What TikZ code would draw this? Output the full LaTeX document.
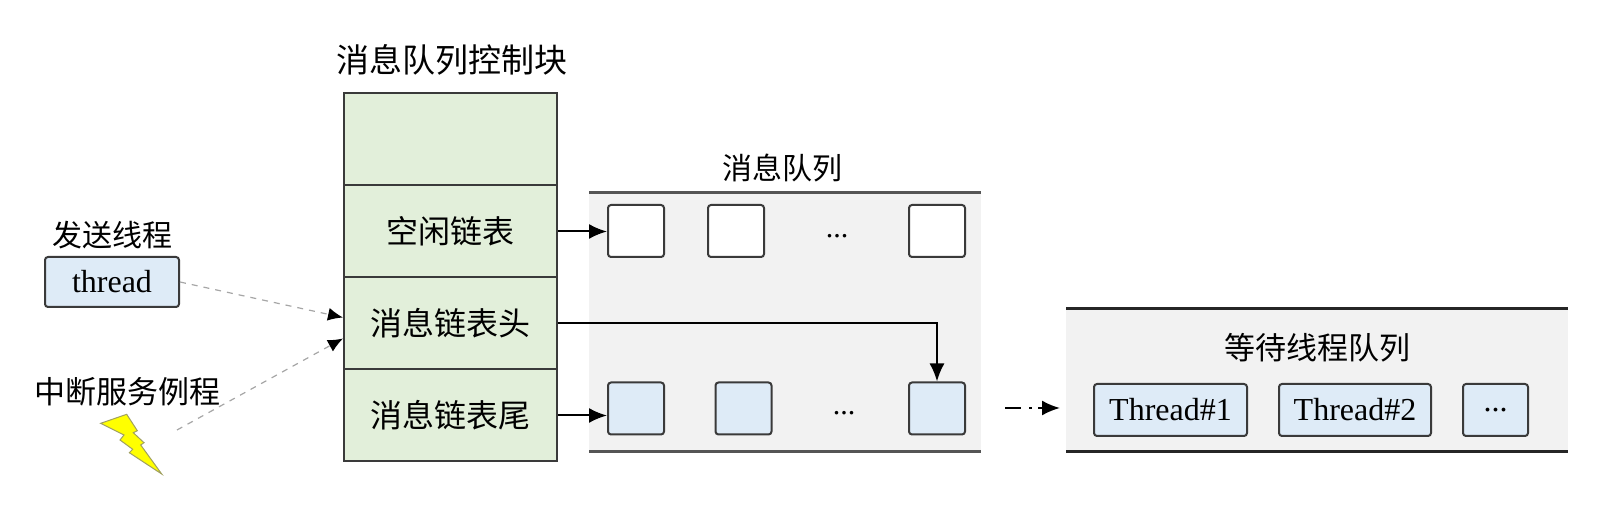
\documentclass[tikz,border=0pt]{standalone}
\usepackage{fontspec}
\setmainfont{Liberation Serif}
\newfontfamily\cjk{Noto Sans CJK SC}
\usetikzlibrary{arrows.meta}
\definecolor{cbgreen}{HTML}{E2EFDA}
\definecolor{qblue}{HTML}{DEEBF7}
\definecolor{qgray}{HTML}{F2F2F2}
\definecolor{qline}{HTML}{555555}
\definecolor{boxline}{HTML}{3A3A3A}
\definecolor{boltfill}{HTML}{FFFF00}
\definecolor{boltline}{HTML}{A0A060}

\begin{document}
\begin{tikzpicture}[x=0.5pt,y=-0.5pt,
  cbrow/.style={draw=boxline,line width=1pt,fill=cbgreen,minimum width=106.5pt,
    minimum height=46pt,inner sep=0pt,font=\cjk\fontsize{16}{16}\selectfont},
  msgbox/.style={draw=boxline,line width=1pt,rounded corners=1.5pt,minimum width=28pt,
    minimum height=26pt,inner sep=0pt},
  thrbox/.style={draw=boxline,line width=1pt,rounded corners=1.5pt,fill=qblue,
    minimum height=26pt,inner sep=0pt,font=\fontsize{16}{16}\selectfont},
  cjklabel/.style={font=\cjk\fontsize{15}{15}\selectfont,inner sep=0pt},
  dots/.style={font=\fontsize{15}{15}\selectfont,inner sep=0pt},
  link/.style={line width=1pt,-{Latex[length=9pt,width=7.5pt]}},
  sendlink/.style={draw=gray!70,dashed,line width=0.6pt,-{Latex[length=7.5pt,width=6.5pt,color=black]}}
]
\useasboundingbox (0,0) rectangle (1608,507);

% message queue area
\fill[qgray] (589,193) rectangle (981,452);
\draw[qline,line width=1.5pt] (589,193) -- (981,193);
\draw[qline,line width=1.5pt] (589,452) -- (981,452);
\node[cjklabel] (mqlabel) at (782,168) {消息队列};

% waiting thread queue area
\fill[qgray] (1066,309) rectangle (1568,452);
\draw[black!85,line width=1.5pt] (1066,309) -- (1568,309);
\draw[black!85,line width=1.5pt] (1066,452) -- (1568,452);
\node[cjklabel,font=\cjk\fontsize{15.5}{15.5}\selectfont] (wqlabel) at (1317,348) {等待线程队列};

% control block
\node[cjklabel,font=\cjk\fontsize{16.5}{16.5}\selectfont] (cbtitle) at (452,60) {消息队列控制块};
\node[cbrow] (cbtop) at (450.5,139.5) {};
\node[cbrow] (free) at (450.5,231.5) {空闲链表};
\node[cbrow] (head) at (450.5,323.5) {消息链表头};
\node[cbrow] (tail) at (450.5,415.5) {消息链表尾};

% free message boxes
\node[msgbox,fill=white] (f1) at (636,231) {};
\node[msgbox,fill=white] (f2) at (736,231) {};
\node[dots] (fdots) at (837,236) {...};
\node[msgbox,fill=white] (f3) at (937,231) {};

% used message boxes
\node[msgbox,fill=qblue] (b1) at (636,408.5) {};
\node[msgbox,fill=qblue] (b2) at (743.5,408.5) {};
\node[dots] (bdots) at (844,413) {...};
\node[msgbox,fill=qblue] (b3) at (937,408.5) {};

% waiting threads
\node[thrbox,minimum width=76.5pt] (t1) at (1170.5,410) {Thread\#1};
\node[thrbox,minimum width=76pt] (t2) at (1355,410) {Thread\#2};
\node[thrbox,minimum width=32.5pt] (t3) at (1495.5,410) {...};

% sending thread
\node[cjklabel] (sendlabel) at (113,235) {发送线程};
\node[thrbox,minimum width=67pt,minimum height=25pt] (thread) at (112,282) {thread};

% interrupt
\node[cjklabel,font=\cjk\fontsize{15.5}{15.5}\selectfont] (isrlabel) at (127,392) {中断服务例程};
\filldraw[fill=boltfill,draw=boltline,line width=0.5pt] (100.7,423.3) -- (126.7,414.3)
  -- (137.3,430.7) -- (133.3,432.7) -- (144,442.7) -- (140.7,445) -- (161.7,474)
  -- (129.3,452.7) -- (132.7,449.3) -- (120,440) -- (124,435) -- cycle;
\coordinate (isr) at (177,430);

% links
\draw[link] (free.east) -- (free.east -| f1.west);
\draw[link] (head.east) -| (b3.north);
\draw[link] (tail.east) -- (tail.east -| b1.west);
\draw[sendlink] (thread.east) -- ([yshift=3pt]head.west);
\draw[sendlink] (isr) -- ([yshift=-7.5pt]head.west);

% to waiting queue
\coordinate (d1) at (1005,408);
\coordinate (d2) at (1060,408);
\draw[line width=1pt,dash pattern=on 8pt off 4pt on 1.5pt off 3pt,-{Latex[length=9pt,width=7.5pt]}] (d1) -- (d2);

\end{tikzpicture}
\end{document}
